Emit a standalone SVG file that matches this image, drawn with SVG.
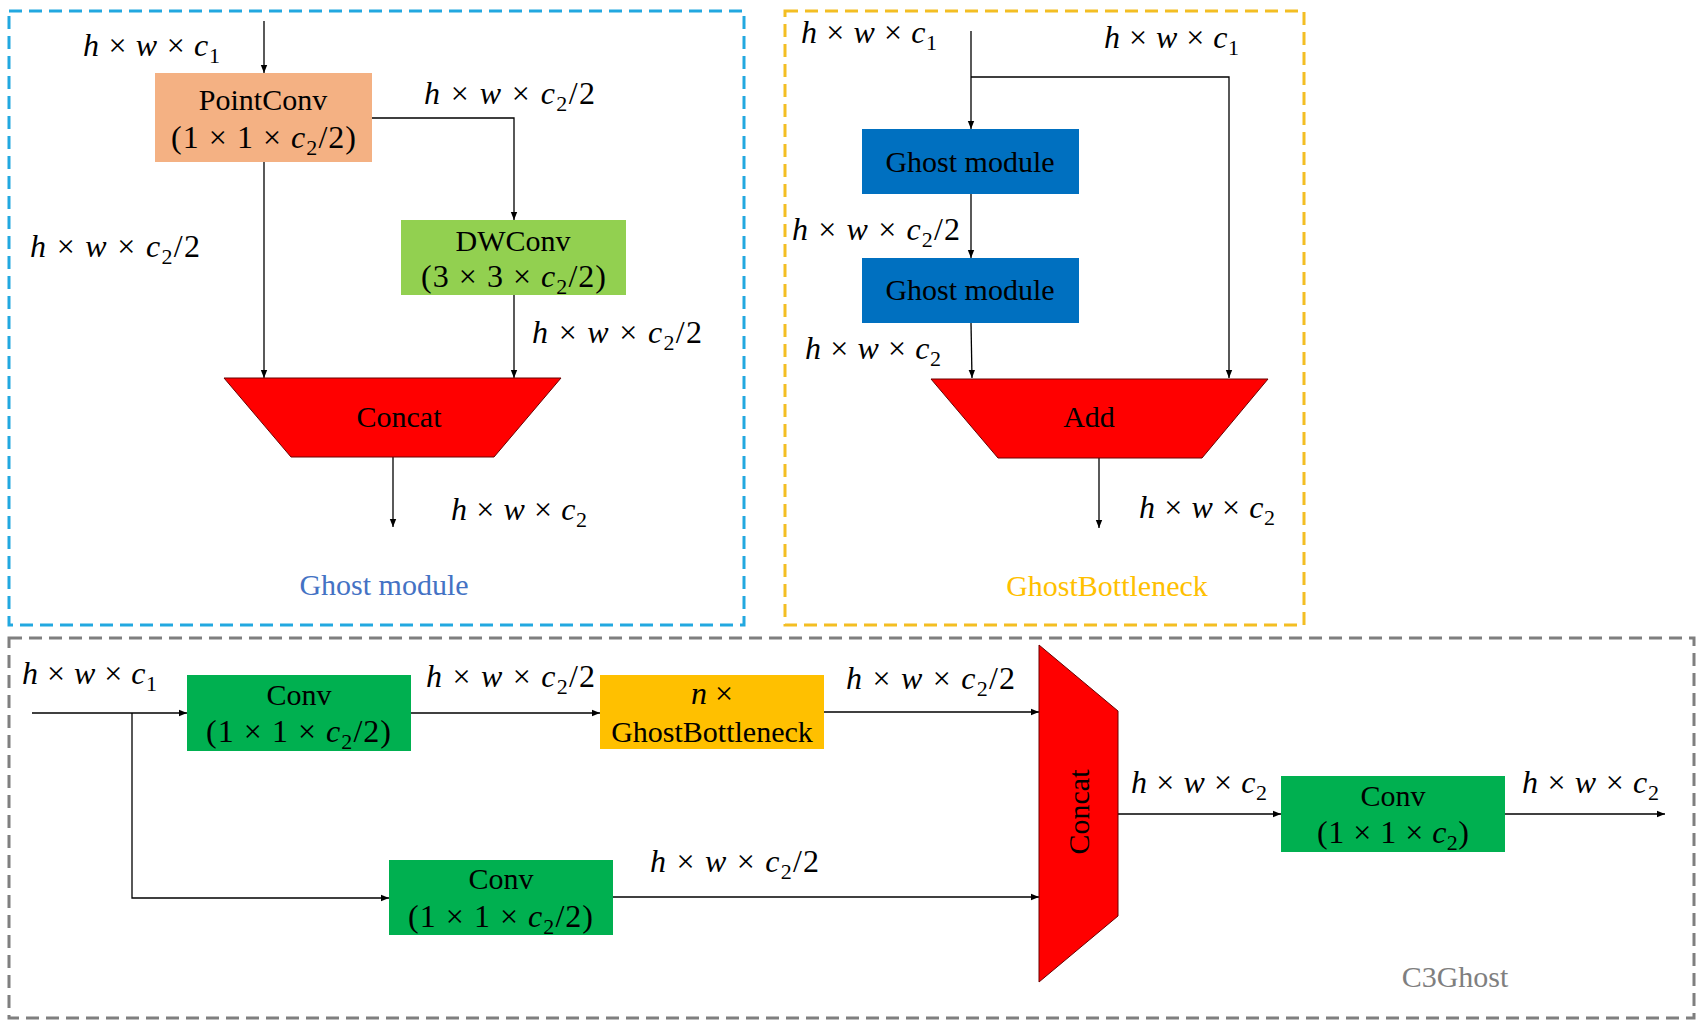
<svg xmlns="http://www.w3.org/2000/svg" width="1707" height="1029" viewBox="0 0 1707 1029">
<style>
  .frame { fill: none; stroke-width: 3; stroke-dasharray: 13 7; }
  .t { font-family: "Liberation Serif", "Times New Roman", serif; font-size: 30px; fill: #000; }
  .m { font-family: "Liberation Serif", "Times New Roman", serif; font-size: 32px; fill: #000; }
  .i { font-style: italic; }
  .s { font-size: 22px; }
  .ln { fill: none; stroke: #000; stroke-width: 1.3; }
  .trap { fill: #FF0000; stroke: #6a0000; stroke-width: 1; }
</style>
<defs>
  <marker id="ah" markerUnits="userSpaceOnUse" markerWidth="8" markerHeight="8" viewBox="0 0 8 8" refX="8" refY="4" orient="auto">
    <path d="M0,0.8 L8,4 L0,7.2 z" fill="#000"/>
  </marker>
</defs>
<rect width="1707" height="1029" fill="#fff"/>

<!-- frames -->
<g id="frames">
  <rect class="frame" x="9" y="11" width="735" height="614" stroke="#22A8E0"/>
  <rect class="frame" x="785" y="11" width="519" height="614" stroke="#F3BE23"/>
  <rect class="frame" x="9" y="638" width="1685" height="380" stroke="#7F7F7F"/>
  <text class="t" x="384" y="595" text-anchor="middle" style="fill:#4472C4">Ghost module</text>
  <text class="t" x="1107" y="596" text-anchor="middle" style="fill:#FFC000">GhostBottleneck</text>
  <text class="t" x="1455" y="987" text-anchor="middle" style="fill:#7F7F7F">C3Ghost</text>
</g>

<!-- connectors -->
<g id="connectors">
  <path class="ln" marker-end="url(#ah)" d="M264,21 V73"/>
  <path class="ln" marker-end="url(#ah)" d="M372,118 H514 V220"/>
  <path class="ln" marker-end="url(#ah)" d="M264,162 V378"/>
  <path class="ln" marker-end="url(#ah)" d="M514,295 V378"/>
  <path class="ln" marker-end="url(#ah)" d="M393,457 V527"/>

  <path class="ln" marker-end="url(#ah)" d="M971,31 V129"/>
  <path class="ln" marker-end="url(#ah)" d="M971,77 H1229 V378"/>
  <path class="ln" marker-end="url(#ah)" d="M971,194 V258"/>
  <path class="ln" marker-end="url(#ah)" d="M971,323 L972,378"/>
  <path class="ln" marker-end="url(#ah)" d="M1099,458 V528"/>

  <path class="ln" marker-end="url(#ah)" d="M32,713 H187"/>
  <path class="ln" marker-end="url(#ah)" d="M132,713 V898 H389"/>
  <path class="ln" marker-end="url(#ah)" d="M411,713 H600"/>
  <path class="ln" marker-end="url(#ah)" d="M824,712 H1039"/>
  <path class="ln" marker-end="url(#ah)" d="M613,897 H1039"/>
  <path class="ln" marker-end="url(#ah)" d="M1118,814 H1281"/>
  <path class="ln" marker-end="url(#ah)" d="M1505,814 H1665"/>
</g>

<!-- Ghost module nodes -->
<g id="pointconv">
  <rect x="155" y="73" width="217" height="89" fill="#F4B183"/>
  <text class="t" x="263" y="110" text-anchor="middle">PointConv</text>
  <text class="m" x="171" y="148" textLength="185" lengthAdjust="spacing">(1 × 1 × <tspan class="i">c</tspan><tspan class="s" dy="7">2</tspan><tspan dy="-7">/2)</tspan></text>
</g>
<g id="dwconv">
  <rect x="401" y="220" width="225" height="75" fill="#92D050"/>
  <text class="t" x="513" y="251" text-anchor="middle">DWConv</text>
  <text class="m" x="421" y="287" textLength="185" lengthAdjust="spacing">(3 × 3 × <tspan class="i">c</tspan><tspan class="s" dy="7">2</tspan><tspan dy="-7">/2)</tspan></text>
</g>
<g id="concat1">
  <polygon class="trap" points="224,378 561,378 494,457 291,457"/>
  <text class="t" x="399" y="427" text-anchor="middle">Concat</text>
</g>

<!-- GhostBottleneck nodes -->
<g id="ghost1">
  <rect x="862" y="129" width="217" height="65" fill="#0070C0"/>
  <text class="t" x="970" y="172" text-anchor="middle">Ghost module</text>
</g>
<g id="ghost2">
  <rect x="862" y="258" width="217" height="65" fill="#0070C0"/>
  <text class="t" x="970" y="300" text-anchor="middle">Ghost module</text>
</g>
<g id="add">
  <polygon class="trap" points="931,379 1268,379 1202,458 998,458"/>
  <text class="t" x="1089" y="427" text-anchor="middle">Add</text>
</g>

<!-- C3Ghost nodes -->
<g id="conv1">
  <rect x="187" y="675" width="224" height="76" fill="#00B050"/>
  <text class="t" x="299" y="705" text-anchor="middle">Conv</text>
  <text class="m" x="206" y="742" textLength="185" lengthAdjust="spacing">(1 × 1 × <tspan class="i">c</tspan><tspan class="s" dy="7">2</tspan><tspan dy="-7">/2)</tspan></text>
</g>
<g id="ghostbottleneck">
  <rect x="600" y="675" width="224" height="74" fill="#FFC000"/>
  <text class="m" x="712" y="704" text-anchor="middle"><tspan class="i">n</tspan> ×</text>
  <text class="t" x="712" y="742" text-anchor="middle">GhostBottleneck</text>
</g>
<g id="conv2">
  <rect x="389" y="860" width="224" height="75" fill="#00B050"/>
  <text class="t" x="501" y="889" text-anchor="middle">Conv</text>
  <text class="m" x="408" y="927" textLength="185" lengthAdjust="spacing">(1 × 1 × <tspan class="i">c</tspan><tspan class="s" dy="7">2</tspan><tspan dy="-7">/2)</tspan></text>
</g>
<g id="concat2">
  <polygon class="trap" points="1039,645 1118,711 1118,916 1039,982"/>
  <text class="t" transform="translate(1089,812) rotate(-90)" x="0" y="0" text-anchor="middle">Concat</text>
</g>
<g id="conv3">
  <rect x="1281" y="776" width="224" height="76" fill="#00B050"/>
  <text class="t" x="1393" y="806" text-anchor="middle">Conv</text>
  <text class="m" x="1317" y="843" textLength="152" lengthAdjust="spacing">(1 × 1 × <tspan class="i">c</tspan><tspan class="s" dy="7">2</tspan><tspan dy="-7">)</tspan></text>
</g>

<!-- dimension labels -->
<g id="labels">
  <text class="m" x="83" y="56" textLength="137" lengthAdjust="spacing"><tspan class="i">h</tspan> × <tspan class="i">w</tspan> × <tspan class="i">c</tspan><tspan class="s" dy="7">1</tspan></text>
  <text class="m" x="424" y="104" textLength="171" lengthAdjust="spacing"><tspan class="i">h</tspan> × <tspan class="i">w</tspan> × <tspan class="i">c</tspan><tspan class="s" dy="7">2</tspan><tspan dy="-7">/2</tspan></text>
  <text class="m" x="30" y="257" textLength="170" lengthAdjust="spacing"><tspan class="i">h</tspan> × <tspan class="i">w</tspan> × <tspan class="i">c</tspan><tspan class="s" dy="7">2</tspan><tspan dy="-7">/2</tspan></text>
  <text class="m" x="532" y="343" textLength="170" lengthAdjust="spacing"><tspan class="i">h</tspan> × <tspan class="i">w</tspan> × <tspan class="i">c</tspan><tspan class="s" dy="7">2</tspan><tspan dy="-7">/2</tspan></text>
  <text class="m" x="451" y="520" textLength="136" lengthAdjust="spacing"><tspan class="i">h</tspan> × <tspan class="i">w</tspan> × <tspan class="i">c</tspan><tspan class="s" dy="7">2</tspan></text>

  <text class="m" x="801" y="43" textLength="136" lengthAdjust="spacing"><tspan class="i">h</tspan> × <tspan class="i">w</tspan> × <tspan class="i">c</tspan><tspan class="s" dy="7">1</tspan></text>
  <text class="m" x="1104" y="48" textLength="135" lengthAdjust="spacing"><tspan class="i">h</tspan> × <tspan class="i">w</tspan> × <tspan class="i">c</tspan><tspan class="s" dy="7">1</tspan></text>
  <text class="m" x="792" y="240" textLength="168" lengthAdjust="spacing"><tspan class="i">h</tspan> × <tspan class="i">w</tspan> × <tspan class="i">c</tspan><tspan class="s" dy="7">2</tspan><tspan dy="-7">/2</tspan></text>
  <text class="m" x="805" y="359" textLength="136" lengthAdjust="spacing"><tspan class="i">h</tspan> × <tspan class="i">w</tspan> × <tspan class="i">c</tspan><tspan class="s" dy="7">2</tspan></text>
  <text class="m" x="1139" y="518" textLength="136" lengthAdjust="spacing"><tspan class="i">h</tspan> × <tspan class="i">w</tspan> × <tspan class="i">c</tspan><tspan class="s" dy="7">2</tspan></text>

  <text class="m" x="22" y="684" textLength="135" lengthAdjust="spacing"><tspan class="i">h</tspan> × <tspan class="i">w</tspan> × <tspan class="i">c</tspan><tspan class="s" dy="7">1</tspan></text>
  <text class="m" x="426" y="687" textLength="169" lengthAdjust="spacing"><tspan class="i">h</tspan> × <tspan class="i">w</tspan> × <tspan class="i">c</tspan><tspan class="s" dy="7">2</tspan><tspan dy="-7">/2</tspan></text>
  <text class="m" x="846" y="689" textLength="169" lengthAdjust="spacing"><tspan class="i">h</tspan> × <tspan class="i">w</tspan> × <tspan class="i">c</tspan><tspan class="s" dy="7">2</tspan><tspan dy="-7">/2</tspan></text>
  <text class="m" x="650" y="872" textLength="169" lengthAdjust="spacing"><tspan class="i">h</tspan> × <tspan class="i">w</tspan> × <tspan class="i">c</tspan><tspan class="s" dy="7">2</tspan><tspan dy="-7">/2</tspan></text>
  <text class="m" x="1131" y="793" textLength="136" lengthAdjust="spacing"><tspan class="i">h</tspan> × <tspan class="i">w</tspan> × <tspan class="i">c</tspan><tspan class="s" dy="7">2</tspan></text>
  <text class="m" x="1522" y="793" textLength="137" lengthAdjust="spacing"><tspan class="i">h</tspan> × <tspan class="i">w</tspan> × <tspan class="i">c</tspan><tspan class="s" dy="7">2</tspan></text>
</g>
</svg>
